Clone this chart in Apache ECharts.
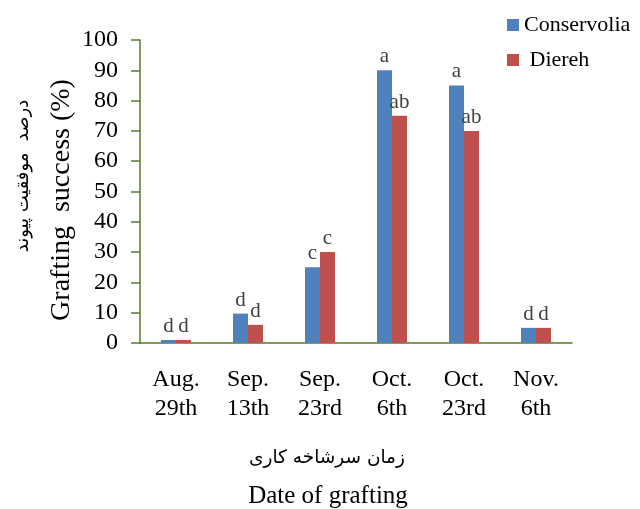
<!DOCTYPE html>
<html><head><meta charset="utf-8">
<script src="https://cdn.jsdelivr.net/npm/echarts@6/dist/echarts.min.js"></script>
<style>html,body{margin:0;padding:0;background:#fff}#c{width:640px;height:509px}</style>
</head><body><div id="c"></div>
<script>
const categories = ['Aug.\n29th','Sep.\n13th','Sep.\n23rd','Oct.\n6th','Oct.\n23rd','Nov.\n6th'];
const conservolia = [1, 9.7, 25, 90, 85, 5];
const diereh = [1, 6, 30, 75, 70, 5];
const conservoliaLetters = ['d','d','c','a','a','d'];
const dierehLetters = ['d','d','c','ab','ab','d'];
const yTicks = [0,10,20,30,40,50,60,70,80,90,100];

const F = 'Liberation Serif, Times New Roman, serif';
const chart = echarts.init(document.getElementById('c'));
chart.setOption({
  animation:false,
  textStyle:{fontFamily:F},
  grid:{left:140,right:68,top:40,bottom:166},
  legend:{
    orient:'vertical', left:502, top:9, itemWidth:12, itemHeight:12, itemGap:13, icon:'rect',
    textStyle:{fontFamily:F,fontSize:22,color:'#000'},
    data:['Conservolia','Diereh'],
    formatter:n=>n==='Diereh'?' Diereh':n
  },
  xAxis:{
    type:'category', data:categories,
    axisLine:{lineStyle:{color:'#5b7a2b',width:1.5}},
    axisTick:{show:false},
    axisLabel:{fontFamily:F,fontSize:24,color:'#000',margin:22,lineHeight:29,interval:0}
  },
  yAxis:{
    type:'value', min:0, max:100, interval:10,
    axisLine:{show:true,lineStyle:{color:'#5b7a2b',width:1.5}},
    axisTick:{show:true,inside:false,length:9,lineStyle:{color:'#5b7a2b',width:1.5}},
    splitLine:{show:false},
    axisLabel:{fontFamily:F,fontSize:24,color:'#000',margin:22,
      formatter:v=>yTicks.includes(v)?String(v):''}
  },
  series:[
    {name:'Conservolia',type:'bar',data:conservolia,barWidth:15,barGap:'0%',
     itemStyle:{color:'#4f81bd'},
     label:{show:true,position:'top',distance:3,fontFamily:F,fontSize:21,color:'#404040',
       formatter:p=>conservoliaLetters[p.dataIndex]}},
    {name:'Diereh',type:'bar',data:diereh,barWidth:15,
     itemStyle:{color:'#c0504d'},
     label:{show:true,position:'top',distance:3,fontFamily:F,fontSize:21,color:'#404040',
       formatter:p=>dierehLetters[p.dataIndex]}}
  ],
  graphic:[
    {type:'text',x:23,y:176,rotation:Math.PI/2,
     style:{text:'درصد  موفقیت پیوند',fontFamily:'DejaVu Sans, sans-serif',fontSize:18,fill:'#000',align:'center',verticalAlign:'middle'}},
    {type:'text',x:62,y:200,rotation:Math.PI/2,
     style:{text:'Grafting  success (%)',fontFamily:F,fontSize:28,fill:'#000',align:'center',verticalAlign:'middle'}},
    {type:'text',x:327,y:458,
     style:{text:'زمان سرشاخه کاری',fontFamily:'DejaVu Sans, sans-serif',fontSize:18.5,fill:'#000',align:'center',verticalAlign:'middle'}},
    {type:'text',x:328,y:496,
     style:{text:'Date of grafting',fontFamily:F,fontSize:25,fill:'#000',align:'center',verticalAlign:'middle'}}
  ]
});
</script></body></html>
